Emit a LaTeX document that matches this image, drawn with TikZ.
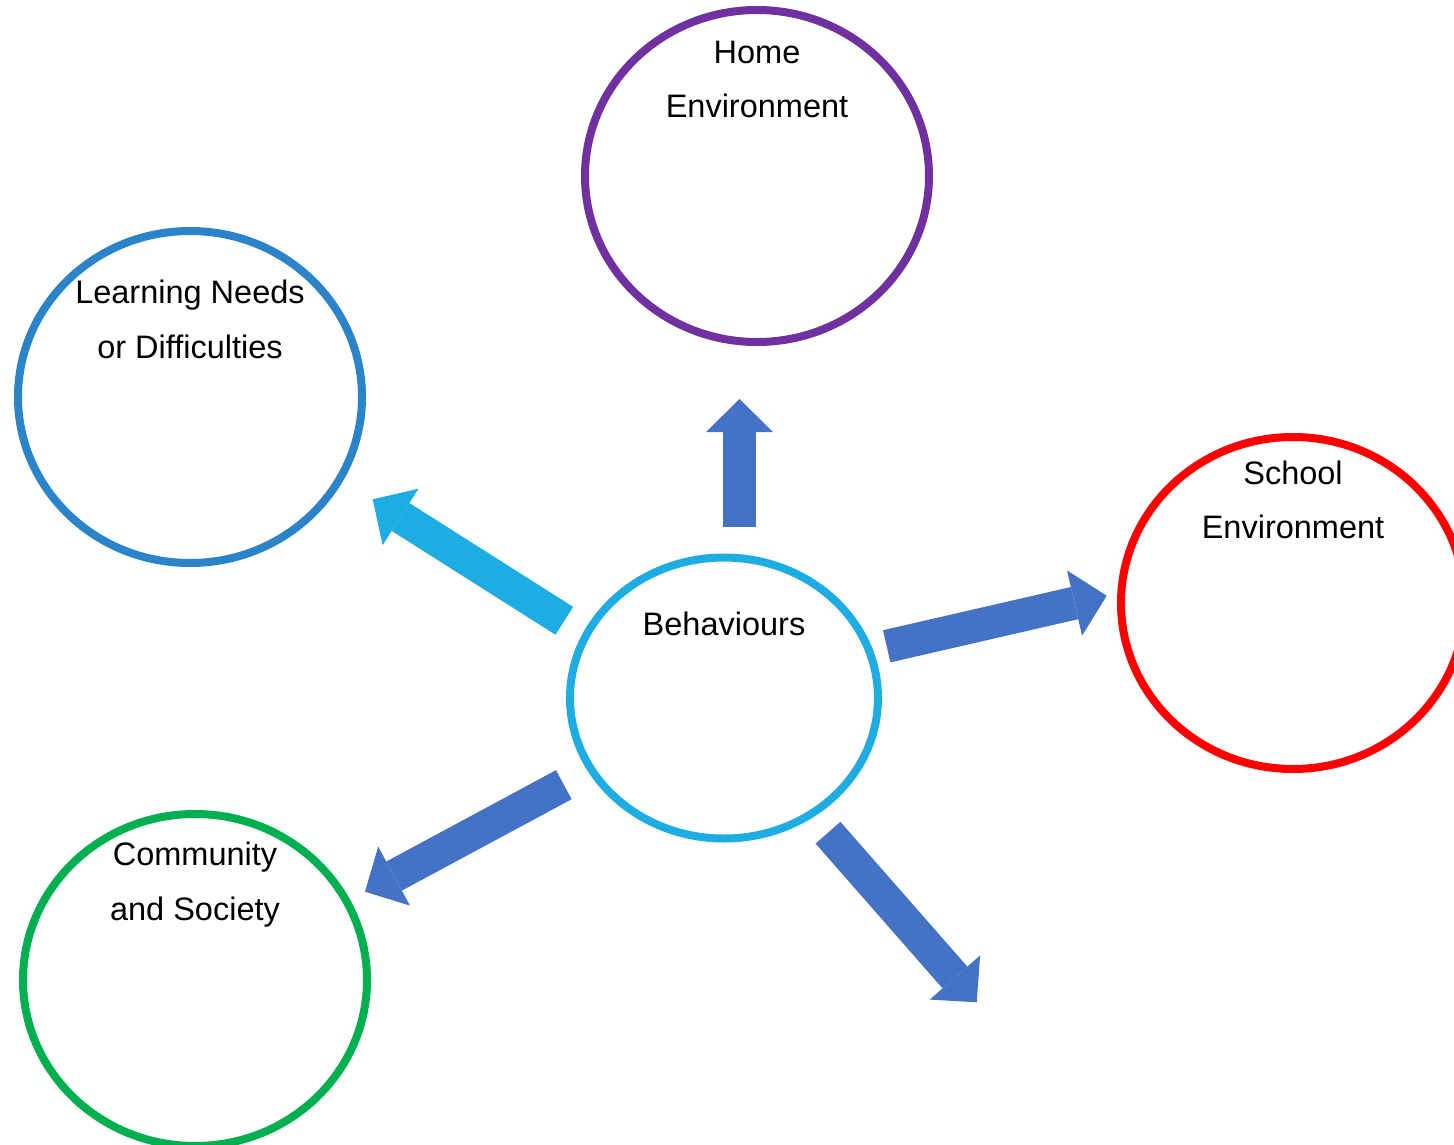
\documentclass[tikz,border=0pt]{standalone}
\usepackage{fontspec}
\setmainfont{Liberation Sans}
\usetikzlibrary{shapes.geometric,arrows.meta,calc}
\definecolor{homeclr}{HTML}{7030A0}
\definecolor{learnclr}{HTML}{2B84C9}
\definecolor{schoolclr}{HTML}{FF0000}
\definecolor{commclr}{HTML}{00B050}
\definecolor{behclr}{HTML}{1EADE3}
\definecolor{arrowclr}{HTML}{4472C4}

\begin{document}
\begin{tikzpicture}[x=1pt,y=-1pt,
  ring/.style={draw=#1,line width=8pt,ellipse,minimum width=344pt,minimum height=332pt,inner sep=0pt,outer sep=0pt},
  caption/.style={align=center,anchor=base,inner sep=0pt,font=\fontsize{32.5}{54.5}\selectfont},
  blockarrow/.style={draw=#1,line width=33pt,-{Triangle[width=67pt,length=33pt,line width=0pt]}}]
\useasboundingbox (0,0) rectangle (1454,1145);
\clip (0,0) rectangle (1454,1145);
\node[ring=homeclr] (home) at (757,176) {};
\node[caption] (homeTxt) at ($(home.north)+(0,108)$) {Home\\Environment};
\node[ring=learnclr] (learn) at (190,397) {};
\node[caption] (learnTxt) at ($(learn.north)+(0,127)$) {Learning Needs\\or Difficulties};
\node[ring=schoolclr] (school) at (1293,603) {};
\node[caption] (schoolTxt) at ($(school.north)+(0,101.5)$) {School\\Environment};
\node[ring=commclr] (comm) at (195,980) {};
\node[caption] (commTxt) at ($(comm.north)+(0,106)$) {Community\\and Society};
\node[ring=behclr,minimum width=308pt,minimum height=281pt] (beh) at (724,698) {};
\node[caption] (behTxt) at ($(beh.north)+(0,78)$) {Behaviours};
\coordinate (upTail) at (739.5,527);
\coordinate (upTip) at (739.5,399);
\coordinate (ulTail) at (564.3,620.8);
\coordinate (ulTip) at (372.7,499.3);
\coordinate (rTail) at (886.7,646.3);
\coordinate (rTip) at (1106.7,595.7);
\coordinate (llTail) at (563.8,784.7);
\coordinate (llTip) at (365,891.7);
\coordinate (lrTail) at (828,832.7);
\coordinate (lrTip) at (976.7,1002.3);
\draw[blockarrow=arrowclr] (upTail) -- (upTip);
\draw[blockarrow=behclr] (ulTail) -- (ulTip);
\draw[blockarrow=arrowclr] (rTail) -- (rTip);
\draw[blockarrow=arrowclr] (llTail) -- (llTip);
\draw[blockarrow=arrowclr] (lrTail) -- (lrTip);
\end{tikzpicture}
\end{document}
